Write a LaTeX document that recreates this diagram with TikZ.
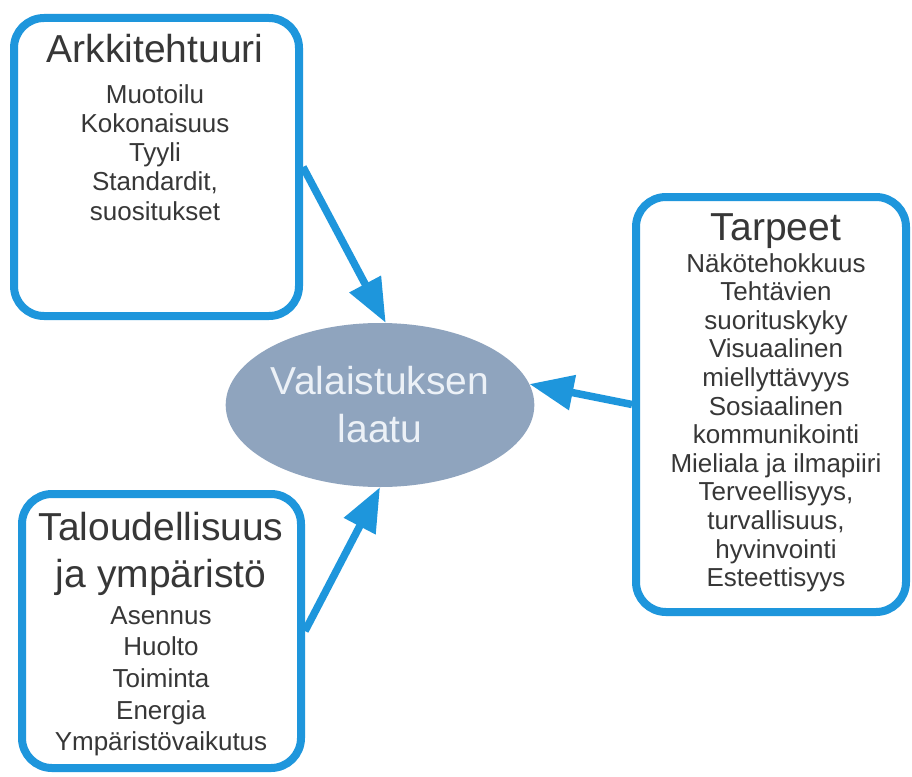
\documentclass[tikz,border=0pt]{standalone}
\usepackage{fontspec}
\setmainfont{Liberation Sans}
\usetikzlibrary{arrows.meta,shapes.geometric}
\definecolor{bblue}{RGB}{30,150,220}
\definecolor{ellfill}{RGB}{143,164,190}
\definecolor{txt}{RGB}{55,55,55}
\definecolor{etxt}{RGB}{236,241,247}
\tikzset{
  box/.style={draw=bblue, line width=8pt, rounded corners=30pt, fill=white, inner sep=0pt},
  title/.style={text=txt, font=\fontsize{39}{47}\selectfont, inner sep=0pt, align=center},
  items/.style={text=txt, inner sep=0pt, align=center, anchor=north},
  conn/.style={draw=bblue, line width=7.5pt, -{Triangle[length=44pt,width=34pt]}},
}
\begin{document}
\begin{tikzpicture}[x=1pt,y=-1pt]
\useasboundingbox[fill=white] (0,0) rectangle (912,776);
% boxes
\node[box, minimum width=285pt, minimum height=298pt] (a1) at (156.5,167) {};
\node[box, minimum width=279pt, minimum height=274pt] (a2) at (161.5,631) {};
\node[box, minimum width=270pt, minimum height=415pt] (a3) at (771,404.5) {};
% ellipse
\node[ellipse, fill=ellfill, minimum width=284pt, minimum height=164pt, inner sep=0pt,
      text=etxt, align=center, font=\fontsize{39}{48}\selectfont] (e) at (380,405) {Valaistuksen\\laatu};
% texts box 1
\node[title, anchor=base] (t1) at (155,63) {Arkkitehtuuri};
\node[items, font=\fontsize{26}{29.3}\selectfont] (i1) at (155,84)
  {Muotoilu\\Kokonaisuus\\Tyyli\\Standardit,\\suositukset};
% texts box 2
\node[title, anchor=north] (t2) at (161,512) {Taloudellisuus\\ja ympäristö};
\node[items, font=\fontsize{26}{31.7}\selectfont] (i2) at (161,606)
  {Asennus\\Huolto\\Toiminta\\Energia\\Ympäristövaikutus};
% texts box 3
\node[title, anchor=base] (t3) at (776,240) {Tarpeet};
\node[items, font=\fontsize{26}{28.6}\selectfont] (i3) at (776,253)
  {Näkötehokkuus\\Tehtävien\\suorituskyky\\Visuaalinen\\miellyttävyys\\Sosiaalinen\\kommunikointi\\Mieliala ja ilmapiiri\\Terveellisyys,\\turvallisuus,\\hyvinvointi\\Esteettisyys};
% connectors
\draw[conn] (a1.east) -- (e.86);
\draw[conn] (a2.east) -- (e.south);
\draw[conn] (a3.west) -- (e.8);
\end{tikzpicture}
\end{document}
